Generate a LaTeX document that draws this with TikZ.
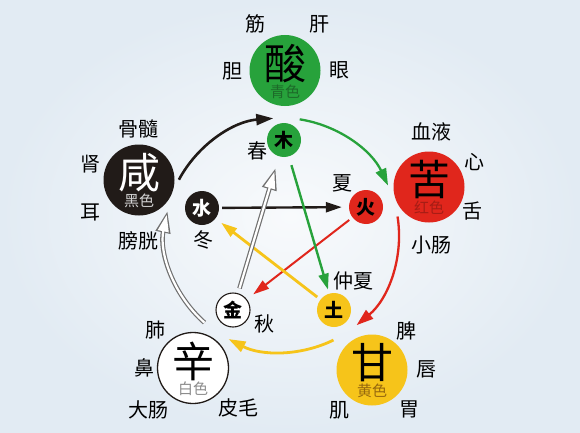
\documentclass[tikz,border=0pt]{standalone}
\usepackage{fontspec}
\newfontfamily\cjk{Noto Sans CJK SC}
\usetikzlibrary{arrows.meta}

\definecolor{woodgreen}{HTML}{27A23B}
\definecolor{firered}{HTML}{E0261C}
\definecolor{earthyellow}{HTML}{F6C41A}
\definecolor{waterblack}{HTML}{211B18}
\definecolor{hollowgray}{HTML}{707070}
\definecolor{greentext}{HTML}{1D6A29}
\definecolor{redtext}{HTML}{A51D15}
\definecolor{blacktext}{HTML}{D2D2D2}
\definecolor{whitetext}{HTML}{8C8C8C}
\definecolor{yellowtext}{HTML}{96680E}
\definecolor{bgin}{HTML}{F8FAFC}
\definecolor{bgout}{HTML}{E2EBF3}

\begin{document}
\begin{tikzpicture}[x=1pt, y=1pt,
  bigball/.style={circle, minimum size=71pt, inner sep=0pt},
  smallball/.style={circle, minimum size=34pt, inner sep=0pt},
  bigchar/.style={font=\cjk\fontsize{42}{42}\selectfont},
  colname/.style={font=\cjk\fontsize{15}{15}\selectfont},
  elem/.style={font=\cjk\bfseries\fontsize{19}{19}\selectfont},
  organ/.style={font=\cjk\fontsize{20}{20}\selectfont},
  sheng/.style={line width=2.6pt, -{Triangle[length=17pt,width=11pt]}},
  ke/.style={line width=2.4pt, -{Triangle[length=16pt,width=10pt]}},
  hollowout/.style={draw=hollowgray, line width=4.6pt, -{Triangle[length=22pt,width=14pt]}},
  hollowin/.style={draw=white, line width=2.2pt, shorten >=4pt, -{Triangle[length=16.8pt,width=10.7pt]}},
]

  % background
  \shade[inner color=bgin, outer color=bgout] (0,0) rectangle (580,432);

  % five tastes
  \node[bigball, fill=woodgreen] (suan) at (285,361.5) {};
  \node[bigball, fill=firered] (ku) at (429,245) {};
  \node[bigball, fill=earthyellow] (gan) at (372,62) {};
  \node[bigball, draw=waterblack, line width=1.3pt, fill=white] (xin) at (193,64) {};
  \node[bigball, fill=waterblack] (xian) at (139,252) {};

  \node[bigchar] (suan-t) at ([yshift=7pt]suan.center) {酸};
  \node[colname, text=greentext] (suan-c) at ([yshift=-21pt]suan.center) {青色};
  \node[bigchar] (ku-t) at ([yshift=7pt]ku.center) {苦};
  \node[colname, text=redtext] (ku-c) at ([yshift=-21pt]ku.center) {红色};
  \node[bigchar] (gan-t) at ([yshift=7pt]gan.center) {甘};
  \node[colname, text=yellowtext] (gan-c) at ([yshift=-21pt]gan.center) {黄色};
  \node[bigchar] (xin-t) at ([yshift=7pt]xin.center) {辛};
  \node[colname, text=whitetext] (xin-c) at ([yshift=-21pt]xin.center) {白色};
  \node[bigchar, text=white] (xian-t) at ([yshift=7pt]xian.center) {咸};
  \node[colname, text=blacktext] (xian-c) at ([yshift=-21pt]xian.center) {黑色};

  % five elements
  \node[smallball, fill=woodgreen, elem] (mu) at (284,292) {木};
  \node[smallball, fill=firered, elem] (huo) at (366,225) {火};
  \node[smallball, fill=earthyellow, elem] (tu) at (334,122) {土};
  \node[smallball, draw=waterblack, line width=1.1pt, fill=white, elem] (jin) at (233,122) {金};
  \node[smallball, fill=waterblack, elem, text=white] (shui) at (202,224) {水};

  % seasons
  \node[organ] (chun) at (257,281) {春};
  \node[organ] (xia) at (342,249) {夏};
  \node[organ] (zhongxia) at (353,151) {仲夏};
  \node[organ] (qiu) at (264,108) {秋};
  \node[organ] (dong) at (203,192) {冬};

  % organs
  \node[organ] (jinb) at (255,408) {筋};
  \node[organ] (gang) at (319,408) {肝};
  \node[organ] (dan) at (232,361) {胆};
  \node[organ] (yan) at (339,362) {眼};

  \node[organ] (xueye) at (431,300) {血液};
  \node[organ] (xinz) at (474,270) {心};
  \node[organ] (she) at (472,221) {舌};
  \node[organ] (xiaochang) at (431,187) {小肠};

  \node[organ] (pi) at (406,101) {脾};
  \node[organ] (chun2) at (426,63) {唇};
  \node[organ] (wei) at (409,23) {胃};
  \node[organ] (ji) at (339,22) {肌};

  \node[organ] (fei) at (155,102) {肺};
  \node[organ] (bi) at (144,64) {鼻};
  \node[organ] (dachang) at (148,22) {大肠};
  \node[organ] (pimao) at (238,24) {皮毛};

  \node[organ] (gusui) at (138,303) {骨髓};
  \node[organ] (shen) at (90,268) {肾};
  \node[organ] (er) at (90,220) {耳};
  \node[organ] (pangguang) at (138,191) {膀胱};

  % outer ring, arcs round O
  \coordinate (O) at (282,197);
  \coordinate (r1) at ([shift={(151.8:117)}]O);
  \coordinate (r2) at ([shift={(81.3:117)}]O);
  \coordinate (r3) at ([shift={(9.1:117)}]O);
  \coordinate (r4) at ([shift={(-63.9:117)}]O);
  \coordinate (r5) at ([shift={(-131.5:117)}]O);

  \draw[sheng, waterblack] (r1) arc[start angle=151.8, end angle=94.3, radius=117];
  \draw[sheng, woodgreen, line width=2.3pt] (r2) arc[start angle=81.3, end angle=25, radius=117];
  \draw[sheng, firered, line width=2.3pt] (r3) arc[start angle=9.1, end angle=-50.4, radius=117];
  \draw[sheng, earthyellow, line width=2.8pt] (r4) arc[start angle=-63.9, end angle=-117.2, radius=117];
  \draw[hollowout] (r5) arc[start angle=-131.5, end angle=-191.9, radius=117];
  \draw[hollowin] (r5) arc[start angle=-131.5, end angle=-191.9, radius=117];

  % inner star
  \draw[ke, waterblack, shorten <=3pt, shorten >=7pt] (shui) -- (huo);
  \draw[ke, firered, line width=2pt, shorten <=4pt, shorten >=8pt] (huo) -- (jin);
  \draw[ke, woodgreen, shorten <=9pt, shorten >=4pt] (mu) -- (tu);
  \draw[ke, earthyellow, line width=2.8pt, shorten <=4pt, shorten >=7pt] (tu) -- (shui);
  \draw[hollowout, shorten <=5pt, shorten >=12pt] (jin) -- (mu);
  \draw[hollowin, shorten <=5pt, shorten >=16pt] (jin) -- (mu);

\end{tikzpicture}
\end{document}
